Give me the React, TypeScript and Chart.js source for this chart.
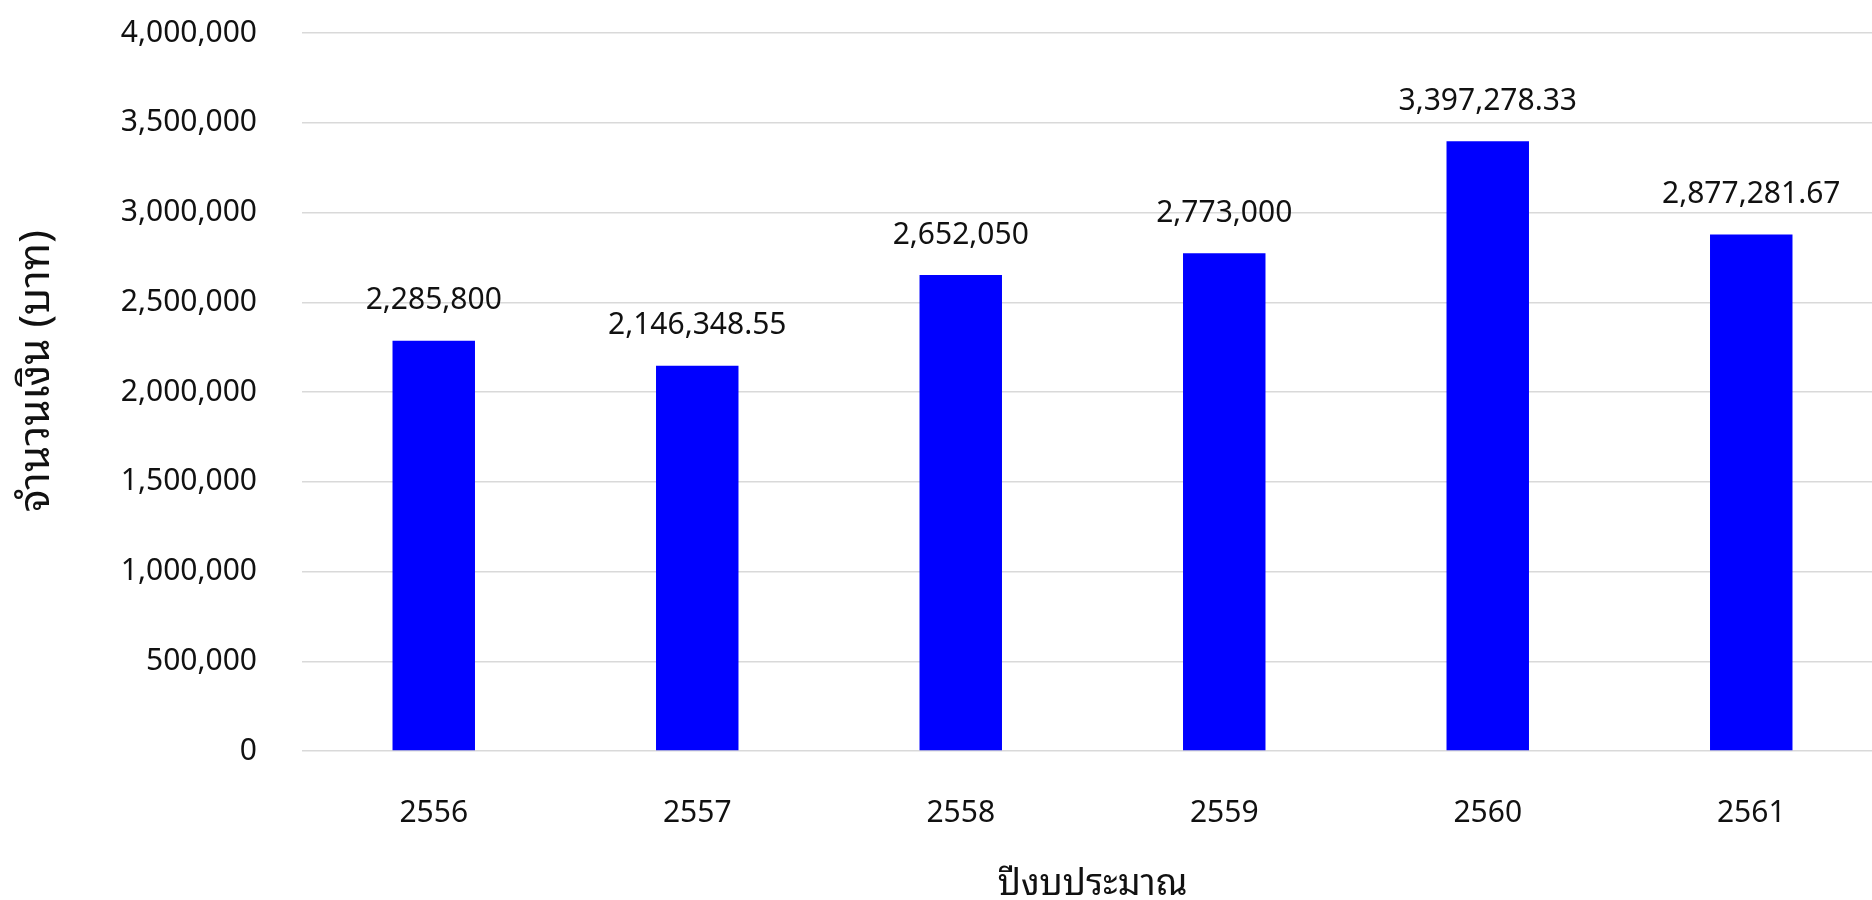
import React, { useEffect, useRef } from "react";
import { Chart, registerables } from "chart.js";

Chart.register(...registerables);

const categories: string[] = ["2556", "2557", "2558", "2559", "2560", "2561"];
const amounts: number[] = [2285800, 2146348.55, 2652050, 2773000, 3397278.33, 2877281.67];
const yMin = 0;
const yMax = 4000000;
const yStep = 500000;
const xTitle = "ปีงบประมาณ";
const yTitle = "จำนวนเงิน (บาท)";

const FONT = "'Noto Sans', 'Noto Sans Thai Looped', 'Noto Sans Thai', Loma, Garuda, sans-serif";
const TEXT = "#111111";

const fmt = new Intl.NumberFormat("en-US", { maximumFractionDigits: 2 });

const labelPlugin = {
  id: "barValueLabels",
  afterDatasetsDraw(chart: any) {
    const { ctx } = chart;
    const meta = chart.getDatasetMeta(0);
    ctx.save();
    ctx.font = `30px ${FONT}`;
    ctx.fillStyle = TEXT;
    ctx.textAlign = "center";
    ctx.textBaseline = "middle";
    meta.data.forEach((bar: any, i: number) => {
      const v = chart.data.datasets[0].data[i] as number;
      ctx.fillText(fmt.format(v), bar.x, bar.y - 40);
    });
    ctx.restore();
  },
};

const yTitlePlugin = {
  id: "yAxisTitle",
  afterDraw(chart: any) {
    const { ctx, chartArea } = chart;
    ctx.save();
    ctx.font = `42px ${FONT}`;
    ctx.fillStyle = TEXT;
    ctx.textAlign = "center";
    ctx.textBaseline = "middle";
    ctx.translate(37, (chartArea.top + chartArea.bottom) / 2 - 21);
    ctx.rotate(-Math.PI / 2);
    ctx.fillText(yTitle, 0, 0);
    ctx.restore();
  },
};

export default function App() {
  const ref = useRef<HTMLCanvasElement | null>(null);
  useEffect(() => {
    if (!ref.current) return;
    const chart = new Chart(ref.current, {
      type: "bar",
      data: {
        labels: categories,
        datasets: [
          {
            data: amounts,
            backgroundColor: "#0000FF",
            borderWidth: 0,
            categoryPercentage: 1,
            barPercentage: 0.313,
          },
        ],
      },
      options: {
        animation: false,
        responsive: true,
        maintainAspectRatio: false,
        layout: { padding: { left: 0, right: 7, top: 33, bottom: 0 } },
        plugins: { legend: { display: false }, tooltip: { enabled: false } },
        scales: {
          x: {
            grid: { display: false, drawTicks: false },
            border: { display: false },
            ticks: { color: TEXT, font: { family: FONT, size: 30 }, padding: 44 },
            title: {
              display: true,
              text: xTitle,
              color: TEXT,
              font: { family: FONT, size: 36 },
              padding: { top: 0, bottom: 0 },
            },
            afterFit: (scale: any) => {
              scale.height = 155;
            },
          },
          y: {
            min: yMin,
            max: yMax,
            grid: { color: "#d9d9d9", lineWidth: 1.5, drawTicks: false },
            border: { display: false },
            ticks: {
              stepSize: yStep,
              color: TEXT,
              font: { family: FONT, size: 30 },
              padding: 45,
              callback: (v: any) => fmt.format(Number(v)),
            },
            title: { display: false },
            afterFit: (scale: any) => {
              scale.width = 302;
              scale.paddingTop = 0;
              scale.paddingBottom = 0;
            },
          },
        },
      },
      plugins: [labelPlugin, yTitlePlugin],
    });
    return () => chart.destroy();
  }, []);
  return (
    <div style={{ position: "fixed", left: 0, top: 0, width: 1872, height: 900, overflow: "hidden", background: "#fff" }}>
      <div style={{ position: "absolute", left: 0, top: 0, width: 1890, height: 906 }}>
        <canvas ref={ref} />
      </div>
    </div>
  );
}
